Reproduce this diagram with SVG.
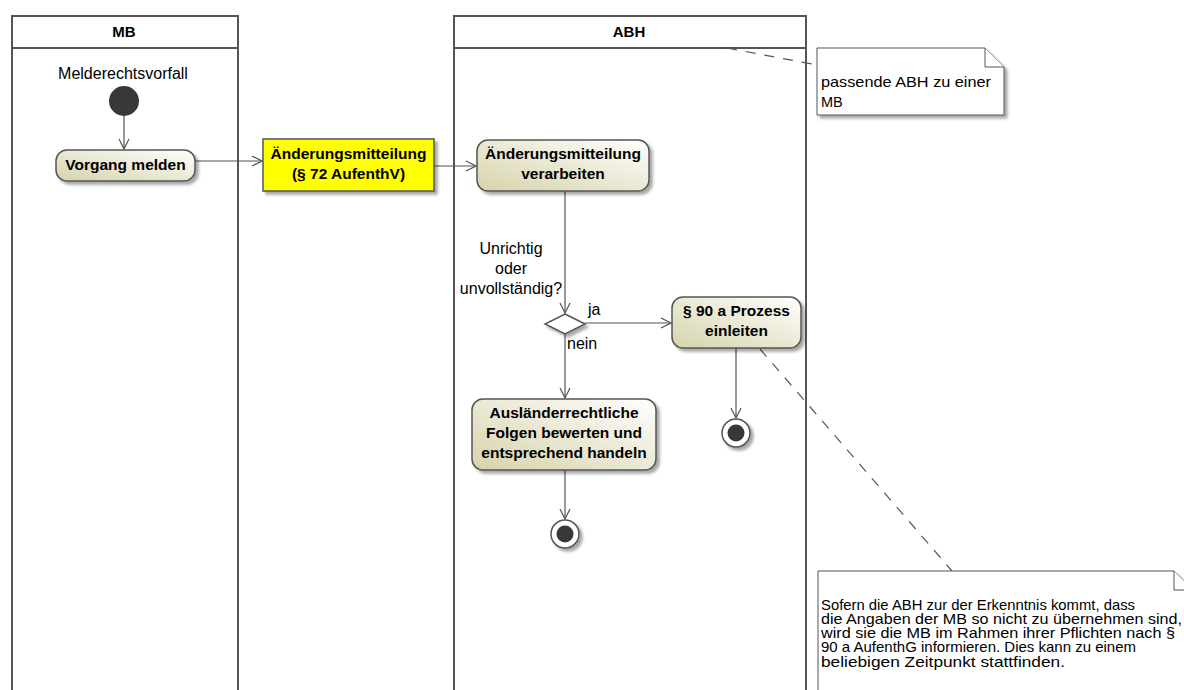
<svg xmlns="http://www.w3.org/2000/svg" width="1184" height="690" viewBox="0 0 1184 690">
<defs>
<linearGradient id="act" x1="0" y1="1" x2="1" y2="0">
<stop offset="0" stop-color="#d6d3aa"/>
<stop offset="1" stop-color="#ffffff"/>
</linearGradient>
<filter id="sh" x="-20%" y="-20%" width="140%" height="150%">
<feDropShadow dx="3" dy="3" stdDeviation="1.5" flood-color="#000" flood-opacity="0.35"/>
</filter>
<marker id="arr" viewBox="0 0 12 12" refX="11" refY="6" markerWidth="12" markerHeight="12" markerUnits="userSpaceOnUse" orient="auto">
<path d="M1,1 L11,6 L1,11" fill="none" stroke="#555" stroke-width="1.2"/>
</marker>
</defs>
<style>
.lane{fill:none;stroke:#555;stroke-width:2}
.hdr{fill:#fff;stroke:#555;stroke-width:2}
.act{fill:url(#act);stroke:#555;stroke-width:1.5}
.h{font-family:"Liberation Sans",Arial,sans-serif;font-size:15px;font-weight:bold;fill:#000;text-anchor:middle}
.b{font-family:"Liberation Sans",Arial,sans-serif;font-size:15.5px;font-weight:bold;fill:#000;text-anchor:middle}
.t{font-family:"Liberation Sans",Arial,sans-serif;font-size:16px;fill:#000}
.n{font-family:"Liberation Sans",Arial,sans-serif;font-size:14.5px;fill:#000}
.c{text-anchor:middle}
.e{fill:none;stroke:#555;stroke-width:1.2}
.dash{fill:none;stroke:#555;stroke-width:1.2;stroke-dasharray:10 9}
.note{fill:#fff;stroke:#555;stroke-width:1}
</style>
<rect width="1184" height="690" fill="#fff"/>
<g id="lane-MB">
<rect class="hdr" x="12" y="16" width="226" height="32"/>
<path class="lane" d="M12,48 V700 M238,48 V700"/>
<text class="h" x="124" y="37">MB</text>
</g>
<g id="lane-ABH">
<rect class="hdr" x="454" y="16" width="352" height="32"/>
<path class="lane" d="M454,48 V700 M806,48 V700"/>
<text class="h" x="629" y="37">ABH</text>
</g>
<g id="connectors">
<line class="e" x1="124" y1="116" x2="124" y2="149" marker-end="url(#arr)"/>
<line class="e" x1="195" y1="161" x2="262" y2="161" marker-end="url(#arr)"/>
<line class="e" x1="434" y1="166" x2="476" y2="166" marker-end="url(#arr)"/>
<line class="e" x1="565" y1="191" x2="565" y2="313" marker-end="url(#arr)"/>
<line class="e" x1="585" y1="323" x2="671" y2="323" marker-end="url(#arr)"/>
<line class="e" x1="565" y1="333" x2="565" y2="398" marker-end="url(#arr)"/>
<line class="e" x1="736" y1="348" x2="736" y2="418" marker-end="url(#arr)"/>
<line class="e" x1="565" y1="470" x2="565" y2="519" marker-end="url(#arr)"/>
<line class="dash" x1="727" y1="48" x2="817" y2="65"/>
<line class="dash" x1="760" y1="349" x2="952" y2="571"/>
<text class="t c" x="511" y="254">Unrichtig</text>
<text class="t c" x="511" y="274">oder</text>
<text class="t c" x="511" y="294">unvollständig?</text>
<text class="t" x="588" y="315">ja</text>
<text class="t" x="567" y="349">nein</text>
</g>
<g id="start">
<text class="t c" x="123" y="79">Melderechtsvorfall</text>
<circle cx="124" cy="101" r="15" fill="#383838"/>
</g>
<g id="vorgang-melden">
<rect class="act" x="56" y="150" width="139" height="31" rx="11" filter="url(#sh)"/>
<text class="b" x="125.5" y="170">Vorgang melden</text>
</g>
<g id="aenderungsmitteilung">
<rect x="263" y="139" width="171" height="52" fill="#ffff00" stroke="#555" stroke-width="1.5" filter="url(#sh)"/>
<text class="b" x="348.5" y="159">Änderungsmitteilung</text>
<text class="b" x="348.5" y="179">(§ 72 AufenthV)</text>
</g>
<g id="verarbeiten">
<rect class="act" x="477" y="140" width="172" height="51" rx="11" filter="url(#sh)"/>
<text class="b" x="563" y="159">Änderungsmitteilung</text>
<text class="b" x="563" y="179">verarbeiten</text>
</g>
<g id="decision">
<polygon points="565,314 585,324 565,334 545,324" fill="#fff" stroke="#555" stroke-width="1.5" filter="url(#sh)"/>
</g>
<g id="prozess-90a">
<rect class="act" x="672" y="297" width="129" height="51" rx="11" filter="url(#sh)"/>
<text class="b" x="736.5" y="316">§ 90 a Prozess</text>
<text class="b" x="736.5" y="336">einleiten</text>
</g>
<g id="end-1">
<circle cx="736" cy="433" r="14" fill="#fff" stroke="#555" stroke-width="1.5" filter="url(#sh)"/>
<circle cx="736" cy="433" r="8.5" fill="#383838"/>
</g>
<g id="auslaenderrecht">
<rect class="act" x="472" y="399" width="184" height="71" rx="11" filter="url(#sh)"/>
<text class="b" x="564" y="418">Ausländerrechtliche</text>
<text class="b" x="564" y="438">Folgen bewerten und</text>
<text class="b" x="564" y="458">entsprechend handeln</text>
</g>
<g id="end-2">
<circle cx="565" cy="534" r="14" fill="#fff" stroke="#555" stroke-width="1.5" filter="url(#sh)"/>
<circle cx="565" cy="534" r="8.5" fill="#383838"/>
</g>
<g id="note-1">
<path class="note" d="M817,48 H985 L1004,67 V115 H817 Z" filter="url(#sh)"/>
<path class="note" d="M985,48 V67 H1004"/>
<text class="n" x="821" y="87" textLength="170" lengthAdjust="spacingAndGlyphs">passende ABH zu einer</text>
<text class="n" x="821" y="107">MB</text>
</g>
<g id="note-2">
<path class="note" d="M818,571 H1174 L1193,590 V720 H818 Z" filter="url(#sh)"/>
<path class="note" d="M1174,571 V590 H1193"/>
<text class="n" x="821" y="610" textLength="314" lengthAdjust="spacingAndGlyphs">Sofern die ABH zur der Erkenntnis kommt, dass</text>
<text class="n" x="821" y="624" textLength="361" lengthAdjust="spacingAndGlyphs">die Angaben der MB so nicht zu übernehmen sind,</text>
<text class="n" x="821" y="638" textLength="354" lengthAdjust="spacingAndGlyphs">wird sie die MB im Rahmen ihrer Pflichten nach §</text>
<text class="n" x="821" y="652" textLength="315" lengthAdjust="spacingAndGlyphs">90 a AufenthG informieren. Dies kann zu einem</text>
<text class="n" x="821" y="667" textLength="244" lengthAdjust="spacingAndGlyphs">beliebigen Zeitpunkt stattfinden.</text>
</g>
</svg>
